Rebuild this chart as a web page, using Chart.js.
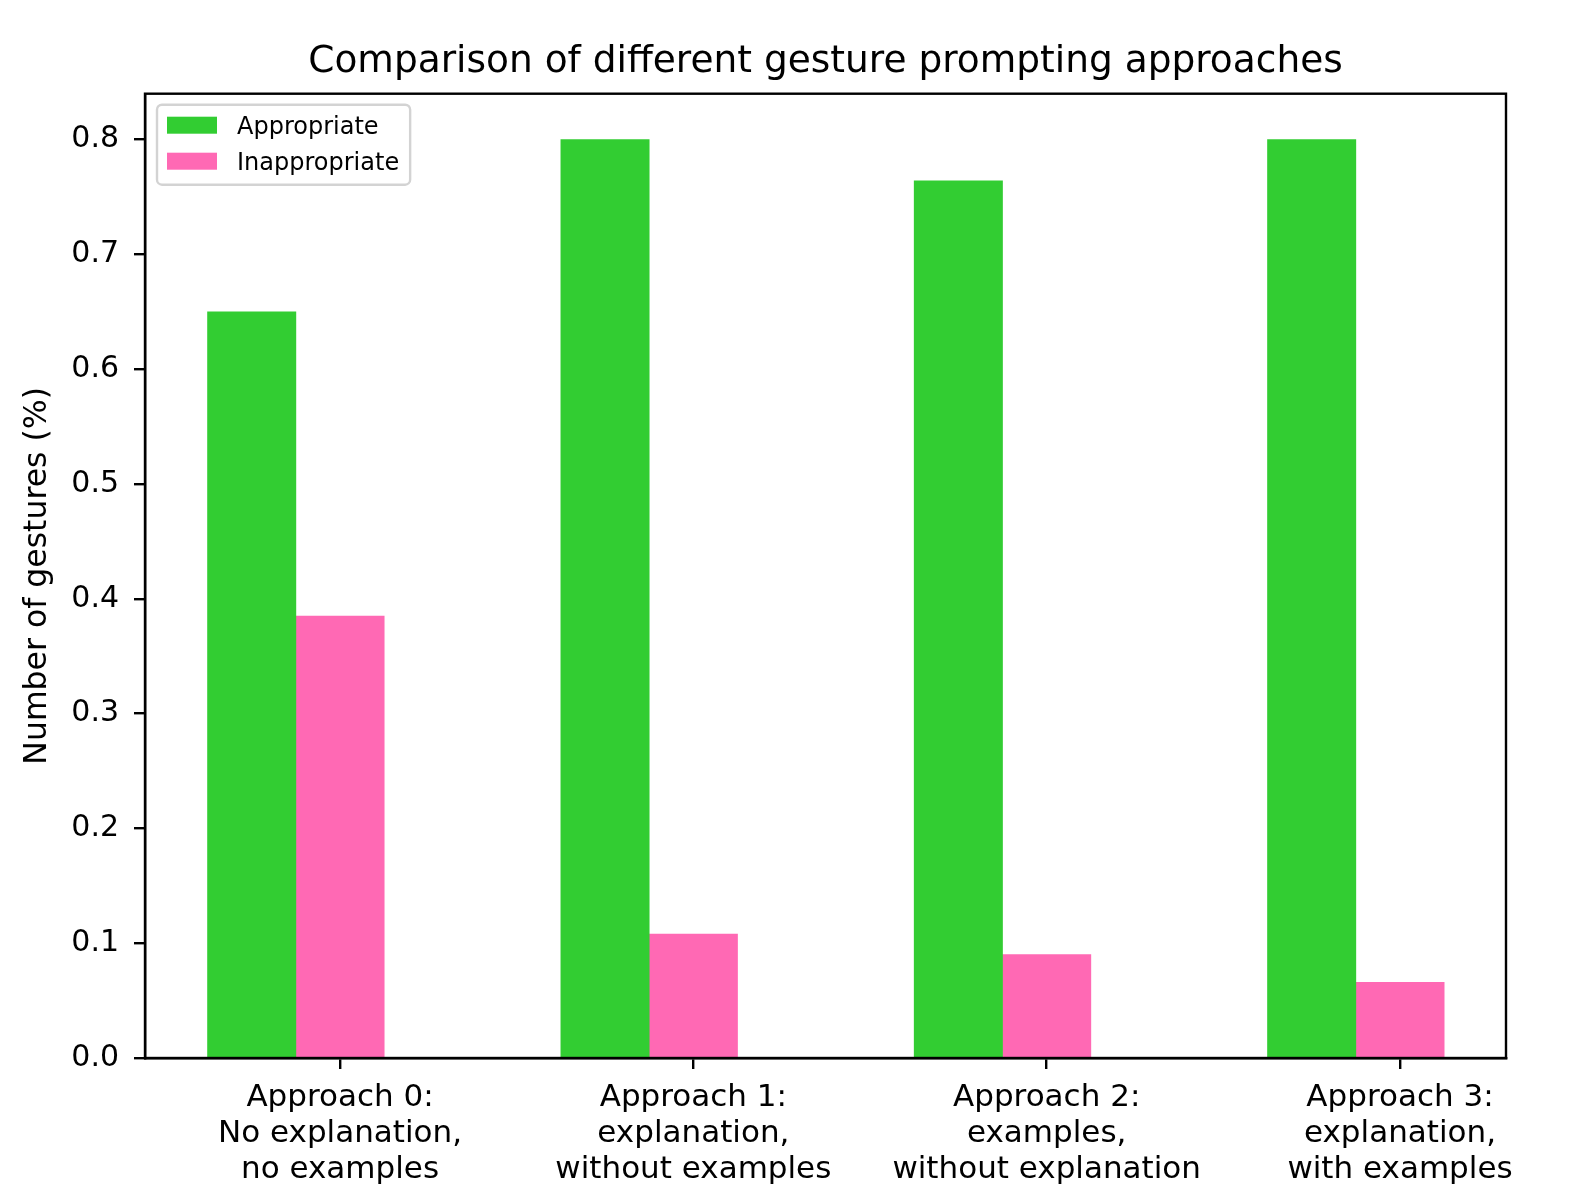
<!DOCTYPE html>
<html>
<head>
<meta charset="utf-8">
<script src="https://cdn.jsdelivr.net/npm/chart.js@4/dist/chart.umd.min.js"></script>
<style>
html,body{margin:0;padding:0;background:#fff}
#wrap{width:1576px;height:1197px}
</style>
</head>
<body>
<div id="wrap"><canvas id="gestureChart" width="1576" height="1197"></canvas></div>
<script>
// values
const categories=[
["Approach 0:","No explanation,","no examples"],
["Approach 1:","explanation,","without examples"],
["Approach 2:","examples,","without explanation"],
["Approach 3:","explanation,","with examples"]
]
const appropriate=[0.65,0.80,0.764,0.80]
const inappropriate=[0.385,0.108,0.090,0.066]
const yTicks=[0,0.1,0.2,0.3,0.4,0.5,0.6,0.7,0.8]

const FONT="'DejaVu Sans', sans-serif"
const barWidth=0.25

// green bar sits left of the tick, pink bar on the tick
let greenData=appropriate.map((v,i)=>({x:i-barWidth,y:v}))
let pinkData=inappropriate.map((v,i)=>({x:i,y:v}))

const frame={
id:"frame",
afterDatasetsDraw(chart){
const a=chart.chartArea
const ctx=chart.ctx
ctx.save()
ctx.strokeStyle="#000"
ctx.lineWidth=2.4
ctx.strokeRect(a.left,a.top,a.right-a.left,a.bottom-a.top)
ctx.restore()
}
}

// matplotlib style legend inside the upper left corner
const boxLegend={
id:"boxLegend",
afterDraw(chart){
const a=chart.chartArea
const ctx=chart.ctx
const ds=chart.data.datasets
ctx.save()
ctx.font="24px "+FONT
let maxW=0
ds.forEach(d=>{maxW=Math.max(maxW,ctx.measureText(d.label).width)})
const fx=a.left+12, fy=a.top+11
const textX=fx+80
const fw=textX+maxW+11-fx, fh=80
ctx.fillStyle="rgba(255,255,255,0.8)"
ctx.strokeStyle="#d3d3d3"
ctx.lineWidth=2.4
ctx.beginPath()
ctx.roundRect(fx,fy,fw,fh,5)
ctx.fill()
ctx.stroke()
ds.forEach((d,i)=>{
const base=fy+29+i*36
ctx.fillStyle=d.backgroundColor
ctx.fillRect(fx+10,base-17,50,17)
ctx.fillStyle="#000"
ctx.textBaseline="alphabetic"
ctx.textAlign="left"
ctx.fillText(d.label,textX,base)
})
ctx.restore()
}
}

new Chart(document.getElementById("gestureChart"),{

type:"bar",

data:{

datasets:[{
label:"Appropriate",
data:greenData,
backgroundColor:"#32cd32",
borderWidth:0
},{
label:"Inappropriate",
data:pinkData,
backgroundColor:"#ff69b4",
borderWidth:0
}]

},

options:{
responsive:false,
animation:false,
devicePixelRatio:1,
grouped:false,
barPercentage:1,
categoryPercentage:1,
layout:{padding:{left:0,right:70,top:0,bottom:0}},
plugins:{
legend:{display:false},
tooltip:{enabled:false},
title:{
display:true,
fullSize:false,
text:"Comparison of different gesture prompting approaches",
color:"#000",
font:{family:FONT,size:37.5,weight:"normal",lineHeight:1.2},
padding:{top:40,bottom:8.7}
}
},
scales:{
x:{
type:"linear",
offset:false,
min:-0.552,
max:3.30,
afterBuildTicks(scale){
scale.ticks=categories.map((c,i)=>({value:i}))
},
afterFit(scale){scale.height=139},
grid:{offset:false,drawOnChartArea:false,drawTicks:true,tickLength:11,tickColor:"#000",tickWidth:2.4,color:"#000",lineWidth:2.4},
border:{color:"#000",width:2.4},
ticks:{
color:"#000",
font:{family:FONT,size:31,lineHeight:1.16},
padding:11,
maxRotation:0,
autoSkip:false,
callback:function(v){return categories[Math.round(v)]}
}
},
y:{
min:0,
max:0.84,
afterBuildTicks(scale){
scale.ticks=yTicks.map(v=>({value:v}))
},
afterFit(scale){scale.width=145},
grid:{drawOnChartArea:false,drawTicks:true,tickLength:11,tickColor:"#000",tickWidth:2.4,color:"#000",lineWidth:2.4},
border:{color:"#000",width:2.4},
ticks:{
color:"#000",
font:{family:FONT,size:30},
padding:15,
callback:function(v){return v.toFixed(1)}
},
title:{
display:true,
text:"Number of gestures (%)",
color:"#000",
font:{family:FONT,size:31.5,lineHeight:1.2},
padding:{top:19,bottom:0}
}
}
}
},

plugins:[frame,boxLegend]

})
</script>
</body>
</html>
